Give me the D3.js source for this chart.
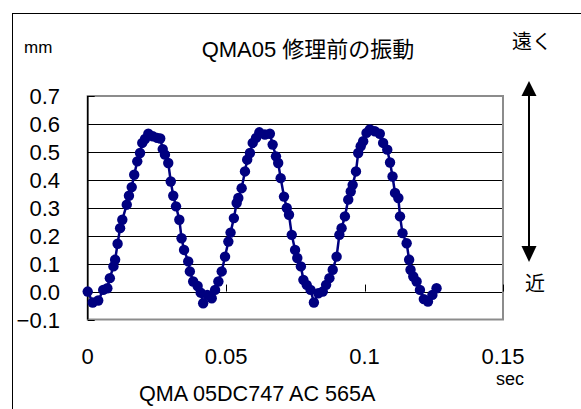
<!DOCTYPE html>
<html>
<head>
<meta charset="utf-8">
<script src="https://cdnjs.cloudflare.com/ajax/libs/d3/7.8.5/d3.min.js"></script>
<style>
  body { margin: 0; background: #fff; }
  text { font-family: "Liberation Sans", Arial, "Noto Sans CJK JP", sans-serif; fill: #000; }
</style>
</head>
<body>
<div id="chart"></div>
<script>
// time (sec) and displacement (mm)
var timeSec = [0, 0.0018, 0.0038, 0.0056, 0.0071, 0.008, 0.0093, 0.0099, 0.0108, 0.0117,
  0.0125, 0.0141, 0.0149, 0.0159, 0.0168, 0.0179, 0.0189, 0.0197, 0.0207, 0.0219,
  0.0235, 0.0251, 0.0262, 0.0271, 0.0279, 0.0291, 0.03, 0.0309, 0.0319, 0.0331,
  0.0339, 0.0348, 0.0363, 0.0369, 0.0381, 0.0397, 0.0408, 0.0417, 0.0432, 0.0448,
  0.046, 0.0472, 0.0484, 0.0496, 0.0508, 0.0516, 0.0528, 0.0538, 0.0544, 0.0556,
  0.0568, 0.0576, 0.0586, 0.0596, 0.0608, 0.062, 0.064, 0.0658, 0.0668, 0.068,
  0.0688, 0.0697, 0.0709, 0.0719, 0.0727, 0.0737, 0.0749, 0.0757, 0.077, 0.0779,
  0.0791, 0.0805, 0.0817, 0.0833, 0.0849, 0.0861, 0.0873, 0.0885, 0.0899, 0.0909,
  0.0917, 0.0929, 0.0941, 0.095, 0.0957, 0.0969, 0.0977, 0.0986, 0.0995, 0.1007,
  0.1019, 0.1037, 0.1055, 0.1067, 0.1082, 0.1092, 0.1101, 0.111, 0.1122, 0.1128,
  0.1137, 0.1152, 0.1161, 0.1166, 0.1176, 0.1188, 0.12, 0.1214, 0.1229, 0.1245,
  0.126];
var dispMm = [0, -0.039, -0.032, 0.006, 0.012, 0.048, 0.09, 0.114, 0.171, 0.227,
  0.257, 0.311, 0.343, 0.374, 0.418, 0.466, 0.496, 0.532, 0.546, 0.565,
  0.556, 0.55, 0.548, 0.51, 0.49, 0.46, 0.394, 0.343, 0.305, 0.257,
  0.191, 0.149, 0.108, 0.072, 0.036, 0.02, -0.004, -0.042, -0.012, -0.024,
  0.006, 0.036, 0.072, 0.125, 0.179, 0.211, 0.263, 0.317, 0.335, 0.37,
  0.43, 0.472, 0.496, 0.532, 0.55, 0.57, 0.562, 0.565, 0.526, 0.484,
  0.46, 0.406, 0.34, 0.299, 0.275, 0.203, 0.149, 0.12, 0.09, 0.042,
  0.024, 0.006, -0.039, -0.006, 0, 0.024, 0.048, 0.078, 0.125, 0.203,
  0.227, 0.269, 0.329, 0.358, 0.382, 0.43, 0.496, 0.52, 0.538, 0.568,
  0.58, 0.574, 0.565, 0.532, 0.508, 0.462, 0.412, 0.353, 0.335, 0.269,
  0.209, 0.173, 0.114, 0.078, 0.054, 0.036, 0.006, -0.027, -0.036, -0.012,
  0.012];

var yTicks = [-0.1, 0, 0.1, 0.2, 0.3, 0.4, 0.5, 0.6, 0.7];
var xTicks = [0, 0.05, 0.1, 0.15];
var xTickLabels = ['0', '0.05', '0.1', '0.15'];

var w = 581;
var h = 409;
var svg = d3.select('#chart').append('svg').attr('width', w).attr('height', h);

var x = d3.scaleLinear().domain([0, 0.15]).range([87.7, 503]);
var y = d3.scaleLinear().domain([-0.1, 0.7]).range([319.5, 96]);

// outer chart frame
svg.append('rect')
  .attr('x', 12.5).attr('y', 13.5)
  .attr('width', 700).attr('height', 500)
  .attr('fill', 'none').attr('stroke', '#000').attr('stroke-width', 1);

// gridlines
svg.selectAll('.grid')
  .data(yTicks.filter(function (d) { return d > -0.1 && d < 0.7; }))
  .enter()
  .append('line')
  .attr('class', 'grid')
  .attr('x1', x(0)).attr('x2', x(0.15))
  .attr('y1', function (d) { return Math.round(y(d)) + 0.5; })
  .attr('y2', function (d) { return Math.round(y(d)) + 0.5; })
  .attr('stroke', '#000').attr('stroke-width', 1);

// plot border
svg.append('rect')
  .attr('x', x(0)).attr('y', y(0.7))
  .attr('width', x(0.15) - x(0)).attr('height', y(-0.1) - y(0.7))
  .attr('fill', 'none').attr('stroke', '#8c8c8c').attr('stroke-width', 2);

// y axis line + inward ticks
svg.append('line')
  .attr('x1', x(0)).attr('x2', x(0))
  .attr('y1', y(0.7)).attr('y2', y(-0.1))
  .attr('stroke', '#000').attr('stroke-width', 1.5);
svg.selectAll('.ytick')
  .data(yTicks)
  .enter()
  .append('line')
  .attr('class', 'ytick')
  .attr('x1', x(0)).attr('x2', x(0) + 7)
  .attr('y1', function (d) { return Math.round(y(d)) + 0.5; })
  .attr('y2', function (d) { return Math.round(y(d)) + 0.5; })
  .attr('stroke', '#000');

// x axis ticks at zero line, pointing up
svg.selectAll('.xtick')
  .data(xTicks.slice(1))
  .enter()
  .append('line')
  .attr('class', 'xtick')
  .attr('x1', function (d) { return Math.round(x(d)) + 0.5; })
  .attr('x2', function (d) { return Math.round(x(d)) + 0.5; })
  .attr('y1', y(0)).attr('y2', y(0) - 7)
  .attr('stroke', '#000');

// tick labels
var fmt = d3.format('.1f');
svg.selectAll('.ylabel')
  .data(yTicks)
  .enter()
  .append('text')
  .attr('class', 'ylabel')
  .attr('x', 60)
  .attr('y', function (d) { return y(d) + 8; })
  .attr('text-anchor', 'end')
  .attr('font-size', '22px')
  .text(function (d) { return fmt(d); });

svg.selectAll('.xlabel')
  .data(xTicks)
  .enter()
  .append('text')
  .attr('class', 'xlabel')
  .attr('x', function (d) { return x(d); })
  .attr('y', 364)
  .attr('text-anchor', 'middle')
  .attr('font-size', '22px')
  .text(function (d, i) { return xTickLabels[i]; });

// series
var pts = timeSec.map(function (t, i) { return [t, dispMm[i]]; });
var line = d3.line()
  .x(function (d) { return x(d[0]); })
  .y(function (d) { return y(d[1]); });
svg.append('path')
  .datum(pts)
  .attr('d', line)
  .attr('fill', 'none')
  .attr('stroke', '#000080')
  .attr('stroke-width', 2.5);
svg.selectAll('.dot')
  .data(pts)
  .enter()
  .append('circle')
  .attr('class', 'dot')
  .attr('cx', function (d) { return x(d[0]); })
  .attr('cy', function (d) { return y(d[1]); })
  .attr('r', 5.2)
  .attr('fill', '#000080');

// texts
svg.append('text').attr('x', 24).attr('y', 53).attr('font-size', '17px').text('mm');
svg.append('text').attr('x', 308).attr('y', 57).attr('text-anchor', 'middle')
  .attr('font-size', '22px').text('QMA05 修理前の振動');
svg.append('text').attr('x', 532).attr('y', 49).attr('text-anchor', 'middle')
  .attr('font-size', '20px').text('遠く');
svg.append('text').attr('x', 535).attr('y', 291).attr('text-anchor', 'middle')
  .attr('font-size', '20px').text('近');
svg.append('text').attr('x', 510).attr('y', 385).attr('text-anchor', 'middle')
  .attr('font-size', '18px').text('sec');
svg.append('text').attr('x', 139).attr('y', 401)
  .attr('font-size', '21.6px').text('QMA 05DC747 AC 565A');

// double arrow
svg.append('line')
  .attr('x1', 529).attr('x2', 529).attr('y1', 92).attr('y2', 250)
  .attr('stroke', '#000').attr('stroke-width', 2);
svg.append('path').attr('d', 'M529,81 L521.5,96 L536.5,96 Z').attr('fill', '#000');
svg.append('path').attr('d', 'M529,262 L521.5,246 L536.5,246 Z').attr('fill', '#000');
</script>
</body>
</html>
